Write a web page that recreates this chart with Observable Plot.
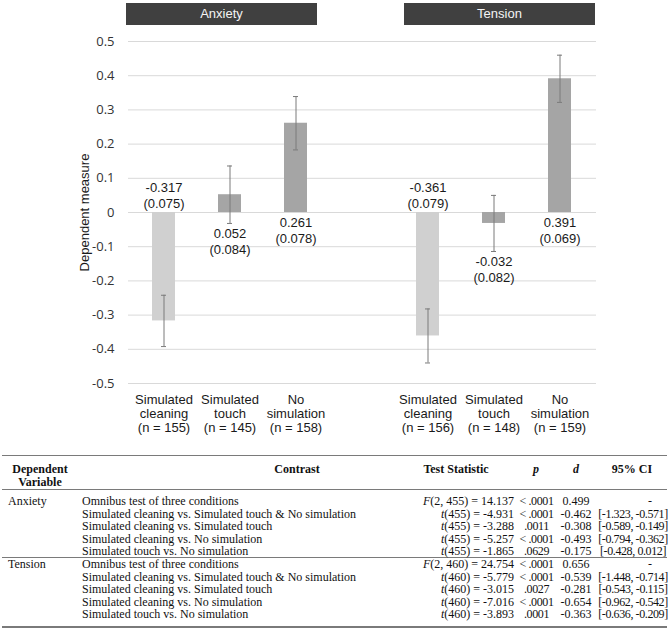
<!DOCTYPE html>
<html>
<head>
<meta charset="utf-8">
<script src="https://cdn.jsdelivr.net/npm/d3@7"></script>
<script src="https://cdn.jsdelivr.net/npm/@observablehq/plot@0.6"></script>
<style>
  body { margin: 0; background: #fff; }
  #wrap { position: relative; width: 669px; height: 629px; background: #fff; overflow: hidden; }
  .hbox { position: absolute; top: 3px; height: 22px; background: #404040; color: #f4f4f4;
          font: 13px "Liberation Sans", Arial, sans-serif; line-height: 22px; text-align: center; }
  #chart { position: absolute; top: 28px; left: 0; }
  #tbl { position: absolute; top: 455px; left: 0; width: 669px; height: 174px;
         font: 12px "Liberation Serif", "Times New Roman", serif; color: #111; }
  .cell { position: absolute; line-height: 12px; white-space: nowrap; }
  .hd { font-weight: bold; }
  .tight { letter-spacing: -0.4px; }
  .rule { position: absolute; left: 2px; width: 665px; background: #7a7a7a; }
</style>
</head>
<body>
<div id="wrap">
  <div id="hdr"></div>
  <div id="chart"></div>
  <div id="tbl"></div>
</div>
<script>
// ---------- chart data ----------
const measures = ["Anxiety", "Tension"];
const conditions = ["Simulated cleaning", "Simulated touch", "No simulation"];
const anxietyMeans = [-0.317, 0.052, 0.261];
const anxietySE = [0.075, 0.084, 0.078];
const anxietyN = [155, 145, 158];
const tensionMeans = [-0.361, -0.032, 0.391];
const tensionSE = [0.079, 0.082, 0.069];
const tensionN = [156, 148, 159];
const yTicks = [-0.5, -0.4, -0.3, -0.2, -0.1, 0, 0.1, 0.2, 0.3, 0.4, 0.5];
const yLabel = "Dependent measure";

// ---------- table data ----------
const tableHeaders = ["Dependent\nVariable", "Contrast", "Test Statistic", "p", "d", "95% CI"];
const contrasts = [
  "Omnibus test of three conditions",
  "Simulated cleaning vs. Simulated touch & No simulation",
  "Simulated cleaning vs. Simulated touch",
  "Simulated cleaning vs. No simulation",
  "Simulated touch vs. No simulation"
];
const anxietyStats = ["F(2, 455) = 14.137", "t(455) = -4.931", "t(455) = -3.288", "t(455) = -5.257", "t(455) = -1.865"];
const anxietyP = ["< .0001", "< .0001", ".0011", "< .0001", ".0629"];
const anxietyD = ["0.499", "-0.462", "-0.308", "-0.493", "-0.175"];
const anxietyCI = ["-", "[-1.323, -0.571]", "[-0.589, -0.149]", "[-0.794, -0.362]", "[-0.428, 0.012]"];
const tensionStats = ["F(2, 460) = 24.754", "t(460) = -5.779", "t(460) = -3.015", "t(460) = -7.016", "t(460) = -3.893"];
const tensionP = ["< .0001", "< .0001", ".0027", "< .0001", ".0001"];
const tensionD = ["0.656", "-0.539", "-0.281", "-0.654", "-0.363"];
const tensionCI = ["-", "[-1.448, -0.714]", "[-0.543, -0.115]", "[-0.962, -0.542]", "[-0.636, -0.209]"];

// ---------- build chart rows ----------
const series = {
  Anxiety: {means: anxietyMeans, se: anxietySE, n: anxietyN},
  Tension: {means: tensionMeans, se: tensionSE, n: tensionN}
};
const rows = [];
measures.forEach(m => conditions.forEach((c, i) => rows.push({
  key: m + " | " + c, measure: m, condition: c, ci: i,
  mean: series[m].means[i], se: series[m].se[i], n: series[m].n[i]
})));
const xDomain = [
  ...conditions.map(c => measures[0] + " | " + c),
  " ",
  ...conditions.map(c => measures[1] + " | " + c)
];
const valueLabel = d => `${d.mean.toFixed(3)}\n(${d.se.toFixed(3)})`;
const xLabel = d => d.condition.replace(" ", "\n") + `\n(n = ${d.n})`;
const tickFmt = d => Math.abs(d) < 1e-9 ? "0" : d.toFixed(1);
const errStroke = "#7a7a7a";

const chart = Plot.plot({
  width: 669,
  height: 427,
  marginLeft: 128,
  marginRight: 73,
  marginTop: 13,
  marginBottom: 72,
  x: {domain: xDomain, paddingInner: 0.65, paddingOuter: 0.33, axis: null},
  y: {domain: [-0.5, 0.5], axis: null},
  style: {fontFamily: "'Liberation Sans', Arial, sans-serif", fontSize: "13px", background: "#fff", overflow: "visible"},
  marks: [
    Plot.ruleY(yTicks, {stroke: "#d9d9d9", strokeWidth: 1}),
    Plot.axisY({ticks: yTicks, tickSize: 0, tickPadding: 14, tickFormat: tickFmt, label: null,
                fontFamily: "'Open Sans', sans-serif", fontSize: 13, fill: "#333"}),
    Plot.barY(rows, {x: "key", y: "mean", fill: d => d.ci === 0 ? "#d0d0d0" : "#a5a5a5"}),
    Plot.ruleX(rows, {x: "key", y1: d => d.mean - d.se, y2: d => d.mean + d.se, stroke: errStroke, strokeWidth: 1}),
    Plot.tickY(rows, {x: "key", y: d => d.mean - d.se, insetLeft: 9, insetRight: 9, stroke: errStroke}),
    Plot.tickY(rows, {x: "key", y: d => d.mean + d.se, insetLeft: 9, insetRight: 9, stroke: errStroke}),
    Plot.text(rows.filter(d => d.ci === 0), {x: "key", y: d => 0, text: valueLabel, lineAnchor: "bottom",
                dy: -5, lineHeight: 1.19, fill: "#1a1a1a", fontSize: 13}),
    Plot.text(rows.filter(d => d.ci !== 0), {x: "key", y: d => Math.min(0, d.mean - d.se), text: valueLabel,
                lineAnchor: "top", dy: 4, lineHeight: 1.19, fill: "#1a1a1a", fontSize: 13}),
    Plot.text(rows, {x: "key", frameAnchor: "bottom", text: xLabel, lineAnchor: "top", dy: 10.7,
                lineHeight: 1.077, fill: "#1a1a1a", fontSize: 13}),
    Plot.text([yLabel], {frameAnchor: "left", dx: -44, rotate: -90, text: d => d, textAnchor: "middle",
                lineAnchor: "middle", fill: "#1a1a1a", fontSize: 13})
  ]
});
document.getElementById("chart").appendChild(chart);

// ---------- facet header boxes ----------
const hdr = document.getElementById("hdr");
[[measures[0], 126], [measures[1], 404]].forEach(([m, left]) => {
  const b = document.createElement("div");
  b.className = "hbox";
  b.style.left = left + "px";
  b.style.width = "191px";
  b.textContent = m;
  hdr.appendChild(b);
});

// ---------- table ----------
const tbl = document.getElementById("tbl");
function cell(content, x, yc, align, cls) {
  const s = document.createElement("div");
  s.className = "cell" + (cls ? " " + cls : "");
  if (content instanceof Node) s.appendChild(content); else s.textContent = content;
  s.style.top = (yc - 6) + "px";
  s.style.left = x + "px";
  if (align === "center") s.style.transform = "translateX(-50%)";
  else if (align === "right") s.style.transform = "translateX(-100%)";
  tbl.appendChild(s);
  return s;
}
function rule(y, h) {
  const r = document.createElement("div");
  r.className = "rule";
  r.style.top = y + "px";
  r.style.height = h + "px";
  tbl.appendChild(r);
}
function stat(str) {
  const f = document.createDocumentFragment();
  const i = document.createElement("i");
  i.textContent = str[0];
  f.appendChild(i);
  f.appendChild(document.createTextNode(str.slice(1)));
  return f;
}
function italic(str) { const i = document.createElement("i"); i.textContent = str; return i; }

rule(0, 1);
rule(34, 1);
rule(102, 1);
rule(171, 2);

// headers
const hdrY = 14;
tableHeaders[0].split("\n").forEach((t, k) => cell(t, 40, hdrY + 12.5 * k, "center", "hd"));
cell(tableHeaders[1], 297, hdrY, "center", "hd");
cell(tableHeaders[2], 456, hdrY, "center", "hd");
cell(italic(tableHeaders[3]), 536, hdrY, "center", "hd");
cell(italic(tableHeaders[4]), 576, hdrY, "center", "hd");
cell(tableHeaders[5], 632, hdrY, "center", "hd");

const blocks = [
  {name: measures[0], stats: anxietyStats, p: anxietyP, d: anxietyD, ci: anxietyCI, y0: 46},
  {name: measures[1], stats: tensionStats, p: tensionP, d: tensionD, ci: tensionCI, y0: 109}
];
blocks.forEach(b => {
  cell(b.name, 8, b.y0, "left");
  contrasts.forEach((c, i) => {
    const y = b.y0 + 12.5 * i;
    cell(c, 82, y, "left");
    cell(stat(b.stats[i]), 514, y, "right");
    cell(b.p[i], 536.5, y, "center", "tight");
    cell(b.d[i], 576, y, "center");
    if (b.ci[i] === "-") cell(b.ci[i], 650, y, "center");
    else cell(b.ci[i], 633, y, "center", "tight");
  });
});
</script>
</body>
</html>
